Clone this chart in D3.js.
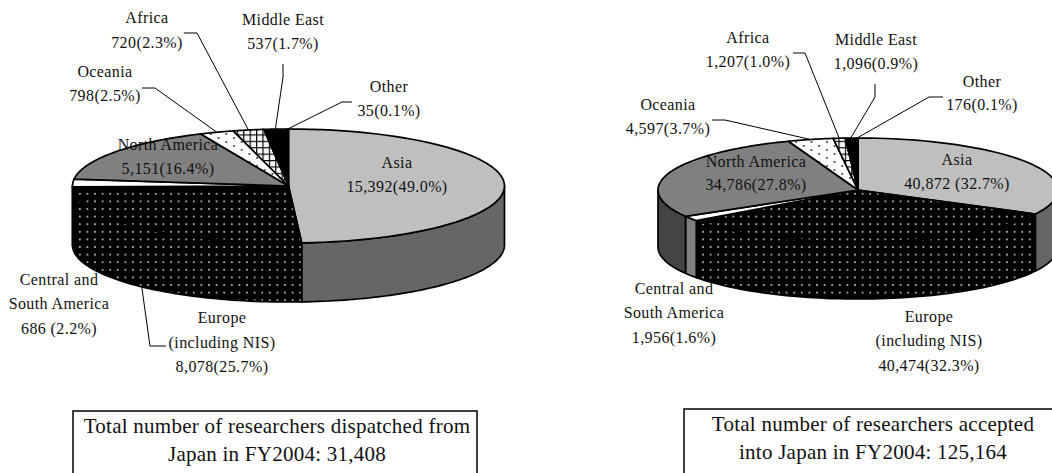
<!DOCTYPE html>
<html>
<head>
<meta charset="utf-8">
<script src="https://cdn.jsdelivr.net/npm/d3@7"></script>
<style>
  html, body { margin: 0; padding: 0; background: #fff; overflow: hidden; }
  svg { display: block; }
  text { font-family: "Liberation Serif", serif; fill: #111; text-anchor: middle; }
  .lab { font-size: 16px; letter-spacing: 0.4px; }
  .total { font-size: 21px; letter-spacing: 0.25px; }
</style>
</head>
<body>
<svg id="chart" width="1052" height="473"></svg>
<script>
// Regions, in the clockwise order the slices are drawn from twelve o'clock
const regions = ["Asia", "Europe", "CSA", "North America", "Oceania", "Africa", "Middle East", "Other"];

// Researchers dispatched from Japan, FY2004
const dispatched = [15392, 8078, 686, 5151, 798, 720, 537, 35];
const dispatchedPct = ["49.0", "25.7", "2.2", "16.4", "2.5", "2.3", "1.7", "0.1"];
const dispatchedGap = ["", "", " ", "", "", "", "", ""];
const dispatchedTotal = ["Total number of researchers dispatched from", "Japan in FY2004: 31,408"];

// Researchers accepted into Japan, FY2004
const accepted = [40872, 40474, 1956, 34786, 4597, 1207, 1096, 176];
const acceptedPct = ["32.7", "32.3", "1.6", "27.8", "3.7", "1.0", "0.9", "0.1"];
const acceptedGap = [" ", "", "", "", "", "", "", ""];
const acceptedTotal = ["Total number of researchers accepted", "into Japan in FY2004: 125,164"];

// Heading lines above each figure
const headings = {
  "Asia": ["Asia"],
  "Europe": ["Europe", "(including NIS)"],
  "CSA": ["Central and", "South America"],
  "North America": ["North America"],
  "Oceania": ["Oceania"],
  "Africa": ["Africa"],
  "Middle East": ["Middle East"],
  "Other": ["Other"]
};

const svg = d3.select("#chart");
const defs = svg.append("defs");

// Fill textures
const dots = defs.append("pattern").attr("id", "blackDots")
  .attr("patternUnits", "userSpaceOnUse").attr("width", 7.6).attr("height", 7.6);
dots.append("rect").attr("width", 7.6).attr("height", 7.6).attr("fill", "#000");
dots.append("circle").attr("cx", 3.8).attr("cy", 3.8).attr("r", 1).attr("fill", "#c4c4c4");

const sparse = defs.append("pattern").attr("id", "whiteDots")
  .attr("patternUnits", "userSpaceOnUse").attr("width", 15.4).attr("height", 8);
sparse.append("rect").attr("width", 15.4).attr("height", 8).attr("fill", "#fff");
sparse.selectAll("circle").data([[3, 2], [10.7, 6]]).join("circle")
  .attr("cx", d => d[0]).attr("cy", d => d[1]).attr("r", 1.1).attr("fill", "#444");

const grid = defs.append("pattern").attr("id", "grid")
  .attr("patternUnits", "userSpaceOnUse").attr("width", 6.4).attr("height", 6.4);
grid.append("rect").attr("width", 6.4).attr("height", 6.4).attr("fill", "#fff");
grid.append("path").attr("d", "M0 0H6.4M0 0V6.4").attr("stroke", "#000").attr("stroke-width", 2.4);

const topFills = ["#bfbfbf", "url(#blackDots)", "#fff", "#808080", "url(#whiteDots)", "url(#grid)", "#000", "#8f93a8"];
const sideFills = ["#666", "url(#blackDots)", "#808080", "#444", "#fff", "#fff", "#000", "#888"];

function drawPie(cfg) {
  const g = svg.append("g");
  const x = d3.scaleLinear().domain([-1, 1]).range([cfg.cx - cfg.rx, cfg.cx + cfg.rx]);
  const y = d3.scaleLinear().domain([-1, 1]).range([cfg.cy - cfg.ry, cfg.cy + cfg.ry]);
  const slices = d3.pie().sort(null).value(d => d)(cfg.values);

  // Rim point for an angle measured clockwise from twelve o'clock
  const rim = (a, drop = 0) => [x(Math.sin(a)), y(-Math.cos(a)) + drop];
  const sweep = (a0, a1) => d3.range(0, 61).map(i => a0 + (a1 - a0) * i / 60);
  const line = d3.line();

  // Side walls: only the part of each slice on the near half of the disc
  slices.forEach((s, i) => {
    const a0 = Math.max(s.startAngle, Math.PI / 2);
    const a1 = Math.min(s.endAngle, Math.PI * 1.5);
    if (a1 <= a0) return;
    const pts = sweep(a0, a1);
    const wall = pts.map(a => rim(a)).concat(pts.slice().reverse().map(a => rim(a, cfg.depth)));
    g.append("path").attr("d", line(wall) + "Z")
      .attr("fill", sideFills[i]).attr("stroke", "#000").attr("stroke-width", 1.7).attr("stroke-linejoin", "round");
  });

  // Top faces
  slices.forEach((s, i) => {
    const face = [[cfg.cx, cfg.cy]].concat(sweep(s.startAngle, s.endAngle).map(a => rim(a)));
    g.append("path").attr("d", line(face) + "Z")
      .attr("fill", topFills[i]).attr("stroke", "#000").attr("stroke-width", 1.7).attr("stroke-linejoin", "round");
  });

  // Leader lines run from the label to the slice's mid-angle on the rim
  slices.forEach((s, i) => {
    const stub = cfg.leaders[i];
    if (!stub) return;
    const mid = (s.startAngle + s.endAngle) / 2;
    const below = mid > Math.PI / 2 && mid < Math.PI * 1.5;
    const end = rim(mid, below ? cfg.depth : 0);
    g.append("path").attr("d", line(stub.concat([end])))
      .attr("fill", "none").attr("stroke", "#000").attr("stroke-width", 1);
  });

  // Labels
  regions.forEach((r, i) => {
    const [lx, ly, step, valueStep] = cfg.labels[i];
    const lines = headings[r];
    lines.forEach((t, k) => {
      g.append("text").attr("class", "lab").attr("x", lx).attr("y", ly + k * step).text(t);
    });
    const figure = d3.format(",")(cfg.values[i]) + cfg.gaps[i] + "(" + cfg.pct[i] + "%)";
    g.append("text").attr("class", "lab").attr("x", lx)
      .attr("y", ly + (lines.length - 1) * step + valueStep).text(figure);
  });

  // Total box, running off the bottom of the page
  const [bx0, bx1, by] = cfg.box;
  g.append("path").attr("d", `M${bx0} 480V${by}H${bx1}V480`)
    .attr("fill", "none").attr("stroke", "#000").attr("stroke-width", 1.5);
  cfg.total.forEach((t, k) => {
    g.append("text").attr("class", "total").attr("x", cfg.totalX).attr("y", cfg.totalY + k * 28).text(t);
  });
}

drawPie({
  values: dispatched, pct: dispatchedPct, gaps: dispatchedGap, total: dispatchedTotal,
  cx: 288.5, cy: 186, rx: 216, ry: 57, depth: 59,
  box: [73, 477, 411], totalX: 277, totalY: 433,
  labels: [
    [397, 168, 24, 24], [222, 323, 25, 24], [59, 285, 24, 25], [168, 150, 24, 24],
    [105, 77, 24, 24], [147, 23, 24, 25], [283, 25, 24, 24], [389, 92, 24, 24]
  ],
  leaders: [
    null,
    [[166, 346], [150, 346]],
    null, null,
    [[142, 88], [155, 88]],
    [[184, 33], [197, 33]],
    [[283, 64], [283, 77]],
    [[352, 102], [342, 102]]
  ]
});

drawPie({
  values: accepted, pct: acceptedPct, gaps: acceptedGap, total: acceptedTotal,
  cx: 858, cy: 190, rx: 200, ry: 52, depth: 57,
  box: [684, 1080, 409], totalX: 873, totalY: 431,
  labels: [
    [957, 165, 24, 24], [929, 322, 24, 25], [674, 294, 24, 25], [756, 167, 24, 23],
    [668, 110, 24, 24], [748, 43, 24, 24], [876, 45, 24, 24], [982, 87, 24, 23]
  ],
  leaders: [
    null, null, null, null,
    [[712, 120], [725, 120]],
    [[793, 53], [805, 53]],
    [[875, 84], [875, 97]],
    [[943, 97], [929, 97]]
  ]
});
</script>
</body>
</html>
